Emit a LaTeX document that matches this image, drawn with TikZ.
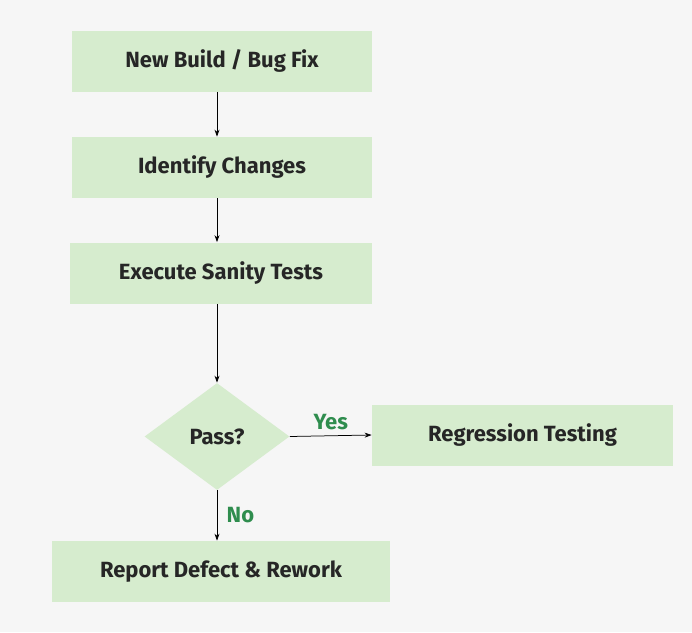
\documentclass[tikz,border=0pt]{standalone}
\usepackage{fontspec}
\setmainfont{Fira Sans}
\usetikzlibrary{shapes.geometric,arrows.meta}
\definecolor{bgGray}{RGB}{246,246,246}
\definecolor{boxGreen}{RGB}{214,236,206}
\definecolor{txtGreen}{RGB}{47,141,78}
\tikzset{every picture/.style={line width=0.75pt}}
\begin{document}
\begin{tikzpicture}[x=1pt,y=1pt,yscale=-1,
  stepbox/.style={fill=boxGreen,minimum height=61pt,font=\fontsize{22}{26}\selectfont\bfseries,text=black!85},
  dec/.style={diamond,fill=boxGreen,minimum width=145pt,minimum height=107pt,aspect=1.36,inner sep=0pt,font=\fontsize{22}{26}\selectfont\bfseries,text=black!85},
  arr/.style={-{Stealth[length=7pt,width=5pt]},black},
  lbl/.style={text=txtGreen,font=\fontsize{22}{26}\selectfont\bfseries}]
%background
\fill[bgGray] (0,0) rectangle (692,632);
% Steps
\node[stepbox,minimum width=300pt] (build) at (222,61) {New Build / Bug Fix};
\node[stepbox,minimum width=300pt] (ident) at (222,167.5) {Identify Changes};
\node[stepbox,minimum width=302pt] (sanity) at (221,273) {Execute Sanity Tests};
\node[dec] (pass) at (217,436.5) {Pass?};
\node[stepbox,minimum width=301pt] (regr) at (522.5,435) {Regression Testing};
\node[stepbox,minimum width=338pt] (report) at (221,571.5) {Report Defect \& Rework};
% Connectors
\draw[arr] (build.south -| pass.north) -- (ident.north -| pass.north);
\draw[arr] (ident.south -| pass.north) -- (sanity.north -| pass.north);
\draw[arr] (sanity.south -| pass.north) -- (pass.north);
\draw[arr] (pass.east) -- (regr.west) node[lbl,midway,above=2pt] {Yes};
\draw[arr] (pass.south) -- (report.north -| pass.south) node[lbl,midway,right=6pt] {No};
\end{tikzpicture}
\end{document}
